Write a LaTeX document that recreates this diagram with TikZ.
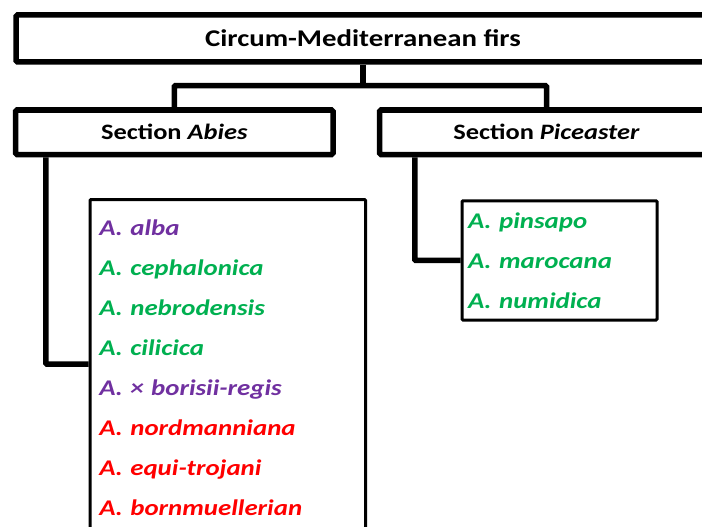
\documentclass[tikz,border=0pt]{standalone}
\usepackage{fontspec}
\setmainfont{Carlito}[FakeStretch=1.2]
\usetikzlibrary{positioning, calc}
\definecolor{hybridpurple}{HTML}{7030A0}
\definecolor{firgreen}{HTML}{00B050}
\definecolor{firred}{HTML}{FF0000}
\frenchspacing
\tikzset{headbox/.style = {
  % Rectangle:
  rectangle,
  draw=black, line width=5.5pt, rounded corners=1.5pt,
  inner sep=0pt,
  % Text
  text centered,
  font=\fontsize{22}{26}\selectfont\bfseries
  }}
\tikzset{listbox/.style = {
  % Rectangle:
  rectangle,
  draw=black, line width=3pt, rounded corners=1pt,
  inner ysep=0pt,
  % Text
  align=left,
  font=\fontsize{22.4}{40}\selectfont\bfseries\itshape
  }}
\tikzset{link/.style = {
  draw=black,
  line width=5.5pt,
  rounded corners=1pt
  }}

\begin{document}
\begin{tikzpicture}[x=1pt, y=1pt]
\path[use as bounding box] (0,0) rectangle (702,-527);

% NODES
\node (firs) [headbox, minimum width=694pt, minimum height=47pt, font=\fontsize{24}{28}\selectfont\bfseries] at (363,-38.5) {Circum-Mediterranean firs};

\node (abies) [headbox, minimum width=317.5pt, minimum height=44.5pt] at (174.25,-132.25) {Section \textit{Abies}};
\node (picea) [headbox, minimum width=334pt, minimum height=44.5pt] at (546.5,-132.25) {Section \textit{Piceaster}};

\node (abieslist) [listbox, minimum width=275.5pt, minimum height=329pt, text width=257pt, inner xsep=9pt] at (227.75,-364) {%
\rule{0pt}{24pt}\textcolor{hybridpurple}{A. alba}\\
\textcolor{firgreen}{A. cephalonica}\\
\textcolor{firgreen}{A. nebrodensis}\\
\textcolor{firgreen}{A. cilicica}\\
\textcolor{hybridpurple}{A. × borisii-regis}\\
\textcolor{firred}{A. nordmanniana}\\
\textcolor{firred}{A. equi-trojani}\\
\textcolor{firred}{A. bornmuellerian}};

\node (picealist) [listbox, minimum width=195pt, minimum height=119.3pt, text width=183pt, inner xsep=6pt] at (559.5,-260.4) {%
\textcolor{firgreen}{A. pinsapo}\\
\textcolor{firgreen}{A. marocana}\\
\textcolor{firgreen}{A. numidica}};

\coordinate (fork) at ([yshift=-21pt]firs.south);

% links
\draw [link] (firs.south) -- (fork);
\draw [link] (abies.north) |- (fork) -| (picea.north);

\draw [link] ([xshift=33pt]abies.south west) |- (abieslist.west);
\draw [link] ([xshift=38pt]picea.south west) |- (picealist.west);
\end{tikzpicture}
\end{document}
